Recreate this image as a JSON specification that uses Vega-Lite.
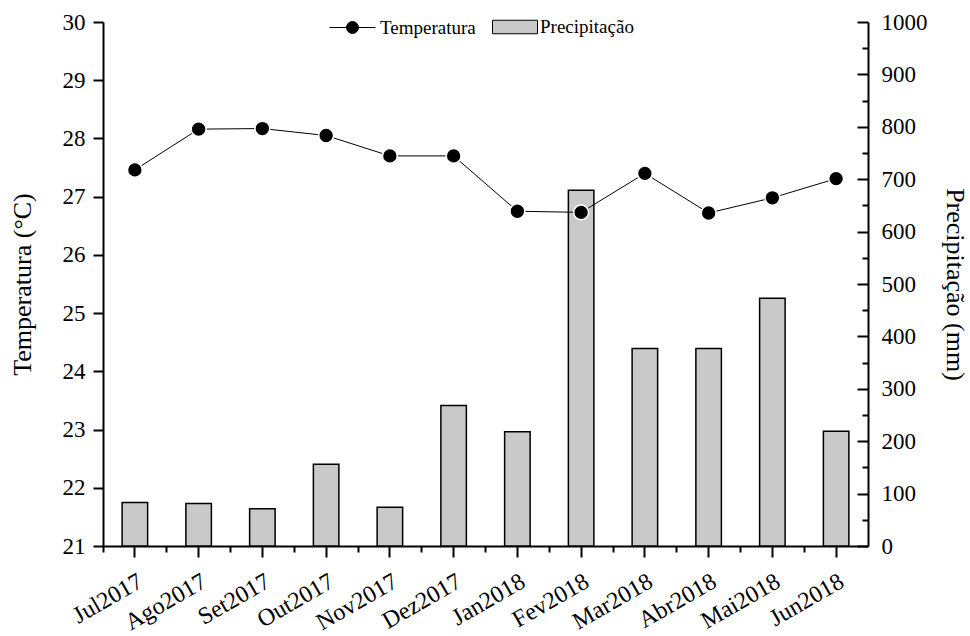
{
  "$schema": "https://vega.github.io/schema/vega-lite/v6.json",
  "width": 765,
  "height": 524,
  "autosize": {"type": "none"},
  "padding": {"left": 103, "top": 22, "right": 102, "bottom": 90},
  "background": "white",
  "config": {
    "view": {"stroke": null},
    "font": "'Liberation Serif', 'Times New Roman', 'DejaVu Serif', serif",
    "axis": {
      "grid": false,
      "domainColor": "black",
      "domainWidth": 2,
      "tickColor": "black",
      "tickWidth": 2,
      "labelFont": "'Liberation Serif', 'Times New Roman', 'DejaVu Serif', serif",
      "titleFont": "'Liberation Serif', 'Times New Roman', 'DejaVu Serif', serif",
      "labelFontSize": 23,
      "titleFontSize": 26,
      "titleFontWeight": "normal",
      "labelColor": "black",
      "titleColor": "black"
    },
    "legend": {
      "labelFont": "'Liberation Serif', 'Times New Roman', 'DejaVu Serif', serif",
      "labelFontSize": 19,
      "labelColor": "black",
      "padding": 0
    }
  },
  "data": {
    "values": [
      {"month": "Jul2017", "temp": 27.46, "precip": 83},
      {"month": "Ago2017", "temp": 28.16, "precip": 81},
      {"month": "Set2017", "temp": 28.17, "precip": 71},
      {"month": "Out2017", "temp": 28.05, "precip": 156},
      {"month": "Nov2017", "temp": 27.70, "precip": 74},
      {"month": "Dez2017", "temp": 27.70, "precip": 268},
      {"month": "Jan2018", "temp": 26.75, "precip": 218},
      {"month": "Fev2018", "temp": 26.73, "precip": 679},
      {"month": "Mar2018", "temp": 27.40, "precip": 377},
      {"month": "Abr2018", "temp": 26.72, "precip": 377},
      {"month": "Mai2018", "temp": 26.98, "precip": 473},
      {"month": "Jun2018", "temp": 27.31, "precip": 219}
    ]
  },
  "layer": [
    {
      "mark": {"type": "bar", "stroke": "black", "strokeWidth": 1.5},
      "encoding": {
        "x": {
          "field": "month", "type": "nominal", "sort": null,
          "scale": {"paddingInner": 0.6, "paddingOuter": 0.3},
          "axis": {"orient": "bottom", "title": null, "labels": false, "domain": false, "tickSize": 6, "bandPosition": -0.75}
        },
        "y": {
          "field": "precip", "type": "quantitative",
          "scale": {"domain": [0, 1000], "nice": false, "zero": true},
          "axis": {
            "orient": "right",
            "title": "Precipitação (mm)",
            "format": "d",
            "values": [0,50,100,150,200,250,300,350,400,450,500,550,600,650,700,750,800,850,900,950,1000],
            "labelExpr": "datum.value % 100 === 0 ? datum.label : ''",
            "tickSize": {"condition": {"test": "datum.value % 100 === 0", "value": -11}, "value": -6},
            "labelPadding": 24,
            "titleAngle": 90,
            "titlePadding": 14
          }
        },
        "fill": {
          "datum": "Precipitação",
          "scale": {"range": ["#c9c9c9"]},
          "legend": {
            "title": null,
            "orient": "none",
            "legendX": 389,
            "legendY": -18,
            "symbolType": "M-1,-0.3H1V0.3H-1Z",
            "symbolSize": 2025,
            "symbolStrokeColor": "black",
            "symbolStrokeWidth": 1,
            "labelOffset": 2
          }
        }
      }
    },
    {
      "encoding": {
        "x": {
          "field": "month", "type": "nominal", "sort": null,
          "axis": {
            "orient": "bottom",
            "title": null,
            "labelAngle": -30,
            "labelAlign": "right",
            "labelBaseline": "top",
            "labelFontSize": 24,
            "tickSize": 11,
            "labelPadding": 12
          }
        },
        "y": {
          "field": "temp", "type": "quantitative",
          "scale": {"domain": [21, 30], "nice": false, "zero": false},
          "axis": {
            "orient": "left",
            "title": "Temperatura (°C)",
            "format": "d",
            "values": [21,21.5,22,22.5,23,23.5,24,24.5,25,25.5,26,26.5,27,27.5,28,28.5,29,29.5,30],
            "labelExpr": "datum.value % 1 === 0 ? datum.label : ''",
            "tickSize": {"condition": {"test": "datum.value % 1 === 0", "value": 10}, "value": 5},
            "labelPadding": 8,
            "titlePadding": 27
          }
        }
      },
      "layer": [
        {
          "mark": {"type": "line", "strokeWidth": 1},
          "encoding": {
            "stroke": {
              "datum": "Temperatura",
              "scale": {"range": ["black"]},
              "legend": {
                "title": null,
                "orient": "none",
                "legendX": 226,
                "legendY": -18,
                "symbolType": "M-1,0L1,0M-0.26,0A0.26,0.26,0,1,1,0.26,0A0.26,0.26,0,1,1,-0.26,0",
                "symbolSize": 2116,
                "symbolFillColor": "black",
                "symbolStrokeColor": "black",
                "symbolStrokeWidth": 1,
                "labelOffset": 4,
                "encode": {"symbols": {"update": {"fill": {"value": "black"}, "stroke": {"value": "black"}}}}
              }
            }
          }
        },
        {
          "mark": {"type": "point", "filled": true, "fill": "black", "stroke": "white", "strokeWidth": 1.5, "size": 220, "opacity": 1},
          "encoding": {}
        }
      ]
    }
  ],
  "resolve": {"scale": {"y": "independent"}, "axis": {"x": "independent"}}
}
